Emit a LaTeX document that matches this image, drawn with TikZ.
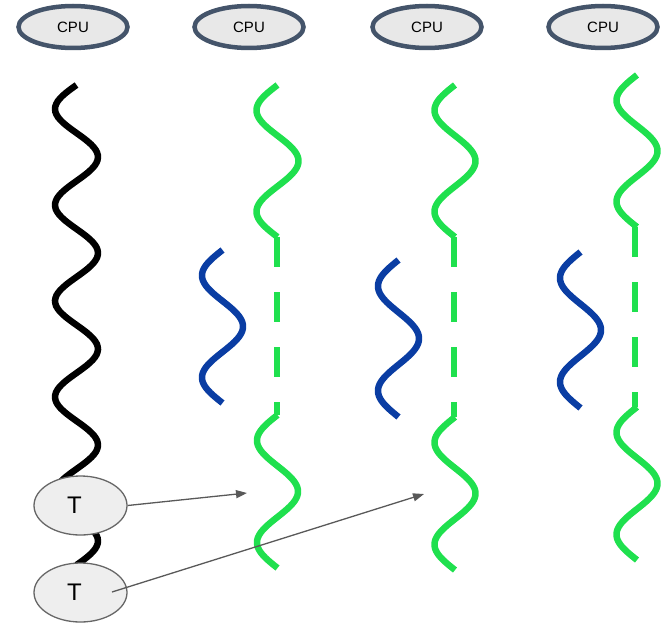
\documentclass[tikz,border=0pt]{standalone}
\usepackage{fontspec}
\setmainfont{Liberation Sans}
\usetikzlibrary{shapes.geometric,arrows.meta}

\definecolor{cpuborder}{HTML}{44546A}
\definecolor{cpufill}{HTML}{E8E8E8}
\definecolor{tfill}{HTML}{EEEEEE}
\definecolor{tborder}{HTML}{666666}
\definecolor{arrowgray}{HTML}{595959}
\definecolor{runcolor}{HTML}{1FE04E}
\definecolor{waitcolor}{HTML}{0A3DA3}

% a vertical sine-shaped thread: style, centre x, top y, bottom y, amplitude, total phase (deg)
\newcommand\squiggle[6]{%
  \draw[#1] plot[domain=#3:#4, samples=90, smooth, variable=\t]
    ({#2-#5*sin((\t-#3)/(#4-#3)*#6)}, \t);}

\tikzset{
  cpu/.style={ellipse, draw=cpuborder, fill=cpufill, line width=4.5pt,
    minimum width=109pt, minimum height=42pt, inner sep=0pt,
    font=\fontsize{15}{15}\selectfont},
  tnode/.style={ellipse, draw=tborder, fill=tfill, line width=1.3pt,
    minimum width=93pt, minimum height=59pt, inner sep=0pt,
    font=\fontsize{24}{24}\selectfont},
  thread/.style={line width=6.5pt},
  mainthread/.style={thread, black},
  running/.style={thread, runcolor},
  waiting/.style={thread, waitcolor},
  idle/.style={line width=6.5pt, runcolor, dash pattern=on 30pt off 25pt},
  handoff/.style={line width=1.3pt, arrowgray, -{Triangle[length=11pt,width=8pt]}}
}

\begin{document}
\begin{tikzpicture}[x=1pt, y=-1pt]
\useasboundingbox (0,0) rectangle (668,623);

% processors
\node[cpu] (cpu1) at (73,27) {CPU};
\node[cpu] (cpu2) at (249,27) {CPU};
\node[cpu] (cpu3) at (427,27) {CPU};
\node[cpu] (cpu4) at (603,27) {CPU};

% single black thread on the first processor
\squiggle{mainthread}{76.5}{85}{565}{21.5}{1800}

% second processor
\squiggle{running}{277.5}{85}{237}{21}{540}
\coordinate (g2a) at (277,237);
\coordinate (g2b) at (277,415);
\draw[idle] (g2a) -- (g2b);
\squiggle{running}{277.5}{415}{568}{20.5}{540}
\squiggle{waiting}{222.5}{250}{403}{20.5}{540}

% third processor
\squiggle{running}{455}{85}{237}{20.5}{540}
\coordinate (g3a) at (454,237);
\coordinate (g3b) at (454,417);
\draw[idle] (g3a) -- (g3b);
\squiggle{running}{455}{417}{570}{20.5}{540}
\squiggle{waiting}{398.5}{260}{417}{20.5}{540}

% fourth processor
\squiggle{running}{637}{75}{227}{20.5}{540}
\coordinate (g4a) at (635,227);
\coordinate (g4b) at (635,407);
\draw[idle] (g4a) -- (g4b);
\squiggle{running}{637}{407}{560}{20.5}{540}
\squiggle{waiting}{580.5}{252}{408}{20.5}{540}

% spawned threads (label sits a little left of centre)
\node[tnode] (t1) at (80.5,505.5) {\hspace*{-12pt}T};
\node[tnode] (t2) at (80.5,592.5) {\hspace*{-12pt}T};

\coordinate (tip1) at (247,493);
\coordinate (tail2) at (112,592);
\coordinate (tip2) at (424,494);
\draw[handoff] (t1.east) -- (tip1);
\draw[handoff] (tail2) -- (tip2);
\end{tikzpicture}
\end{document}
